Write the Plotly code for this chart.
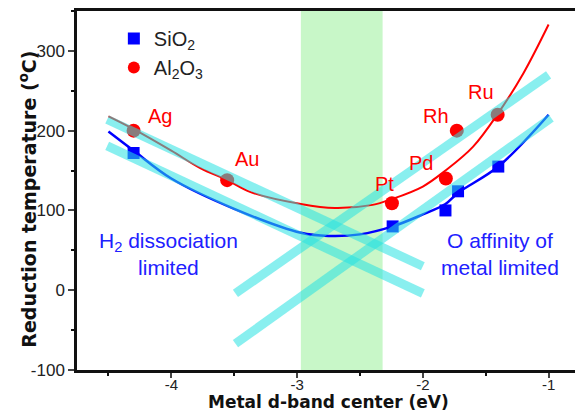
import plotly.graph_objects as go

# ---- data ----
metals = ["Ag", "Au", "Pt", "Pd", "Rh", "Ru"]

sio2_x = [-4.30, -2.24, -1.82, -1.72, -1.40]
sio2_y = [172, 80, 100, 124, 155]

al2o3_x = [-4.30, -3.556, -2.246, -1.817, -1.73, -1.405]
al2o3_y = [200, 138, 109, 140, 200, 220]

# fitted volcano curves
red_fit_x = [-4.5, -4.3, -4.0, -3.77, -3.556, -3.37, -2.97, -2.7, -2.4, -2.25, -2.0, -1.82, -1.6, -1.4, -1.2, -1.0]
red_fit_y = [218, 202, 175, 153, 138, 123, 108, 103, 107, 114, 130, 150, 180, 222, 272, 333]

blue_fit_x = [-4.5, -4.3, -4.0, -3.5, -2.97, -2.75, -2.5, -2.24, -2.0, -1.82, -1.72, -1.4, -1.0]
blue_fit_y = [199, 175, 140, 102, 72, 68, 70, 80, 95, 108, 122, 155, 220]

# guide lines (start, end)
guide_a_x = [-4.51, -2.0]
guide_a_y = [214, 30]
guide_b_x = [-4.51, -2.0]
guide_b_y = [181, -4]
guide_c_x = [-3.49, -1.0]
guide_c_y = [-4, 270]
guide_d_x = [-3.49, -0.98]
guide_d_y = [-67, 216]

band_x = [-2.97, -2.32]

label_x = [-4.087, -3.396, -2.307, -2.013, -1.893, -1.536]
label_y = [219, 164, 133, 160, 219, 248]

x_ticks = [-4, -3, -2, -1]
x_ticktext = ["-4", "-3", "-2", "-1"]
y_ticks = [-100, 0, 100, 200, 300]
y_ticktext = ["-100", "0", "100", "200", "300"]

FONT = "Liberation Sans, Arial, sans-serif"
TITLE_FONT = "DejaVu Sans, sans-serif"
BLUE = "#0000ff"
TXT_BLUE = "#2020ff"
RED = "#ff0000"
CYAN = "rgba(40,225,225,0.55)"

fig = go.Figure()

fig.add_shape(type="rect", xref="x", yref="paper", x0=band_x[0], x1=band_x[1], y0=0, y1=1,
              fillcolor="rgb(200,247,200)", line_width=0, layer="below")

fig.add_trace(go.Scatter(x=red_fit_x, y=red_fit_y, mode="lines", line=dict(color=RED, width=2, shape="spline"),
                         showlegend=False, hoverinfo="skip"))
fig.add_trace(go.Scatter(x=blue_fit_x, y=blue_fit_y, mode="lines", line=dict(color=BLUE, width=2.5, shape="spline"),
                         showlegend=False, hoverinfo="skip"))

fig.add_trace(go.Scatter(x=sio2_x, y=sio2_y, mode="markers", name="SiO<sub>2</sub>",
                         marker=dict(symbol="square", size=12, color=BLUE)))
fig.add_trace(go.Scatter(x=al2o3_x, y=al2o3_y, mode="markers", name="Al<sub>2</sub>O<sub>3</sub>",
                         marker=dict(symbol="circle", size=14, color=RED)))

for gx, gy in [(guide_a_x, guide_a_y), (guide_b_x, guide_b_y), (guide_c_x, guide_c_y), (guide_d_x, guide_d_y)]:
    fig.add_trace(go.Scatter(x=gx, y=gy, mode="lines", line=dict(color=CYAN, width=9),
                             showlegend=False, hoverinfo="skip"))

for m, lx, ly in zip(metals, label_x, label_y):
    fig.add_annotation(x=lx, y=ly, text=m, showarrow=False, font=dict(family=FONT, size=20, color=RED))

fig.add_annotation(x=-4.02, y=45, text="H<sub>2</sub> dissociation<br>limited", showarrow=False,
                   font=dict(family=FONT, size=21, color=TXT_BLUE), align="center", yanchor="middle")
fig.add_annotation(x=-1.384, y=45, text="O affinity of<br>metal limited", showarrow=False,
                   font=dict(family=FONT, size=21, color=TXT_BLUE), align="center", yanchor="middle")

# axis titles
fig.add_annotation(xref="paper", yref="paper", x=0.506, y=-0.0905, xanchor="center", yanchor="middle",
                   text="<b>Metal d-band center (eV)</b>", showarrow=False,
                   font=dict(family=TITLE_FONT, size=17, color="#111111"))
fig.add_annotation(xref="paper", yref="paper", x=-0.098, y=0.475, xanchor="center", yanchor="middle",
                   text="<b>Reduction temperature (<sup>o</sup>C)</b>", showarrow=False, textangle=-90,
                   font=dict(family=TITLE_FONT, size=19, color="#111111"))

fig.update_layout(
    width=575, height=413,
    margin=dict(l=77, r=0, t=11, b=43),
    paper_bgcolor="white", plot_bgcolor="white",
    font=dict(family=FONT, size=15, color="#222222"),
    legend=dict(x=0.074, y=0.978, xanchor="left", yanchor="top", bgcolor="rgba(0,0,0,0)",
                font=dict(family=FONT, size=20, color="#222222"), tracegroupgap=0, itemsizing="constant"),
    xaxis=dict(range=[-4.75, -0.79], tickvals=x_ticks, ticktext=x_ticktext, ticks="outside", ticklen=5, tickwidth=2,
               showline=True, linewidth=2.5, linecolor="#111111", mirror=True, showgrid=False, zeroline=False,
               tickfont=dict(family=FONT, size=15, color="#222222"), ticklabelstandoff=-6,
               minor=dict(dtick=0.5, tick0=-4.5, ticks="outside", ticklen=3, tickwidth=2, tickcolor="#111111")),
    yaxis=dict(range=[-100, 350], tickvals=y_ticks, ticktext=y_ticktext, ticks="outside", ticklen=6, tickwidth=2,
               showline=True, linewidth=2.5, linecolor="#111111", mirror=False, showgrid=False, zeroline=False,
               tickfont=dict(family=FONT, size=17, color="#222222"),
               minor=dict(dtick=50, tick0=-50, ticks="outside", ticklen=3, tickwidth=2, tickcolor="#111111")),
)

fig.write_html("out.html")
